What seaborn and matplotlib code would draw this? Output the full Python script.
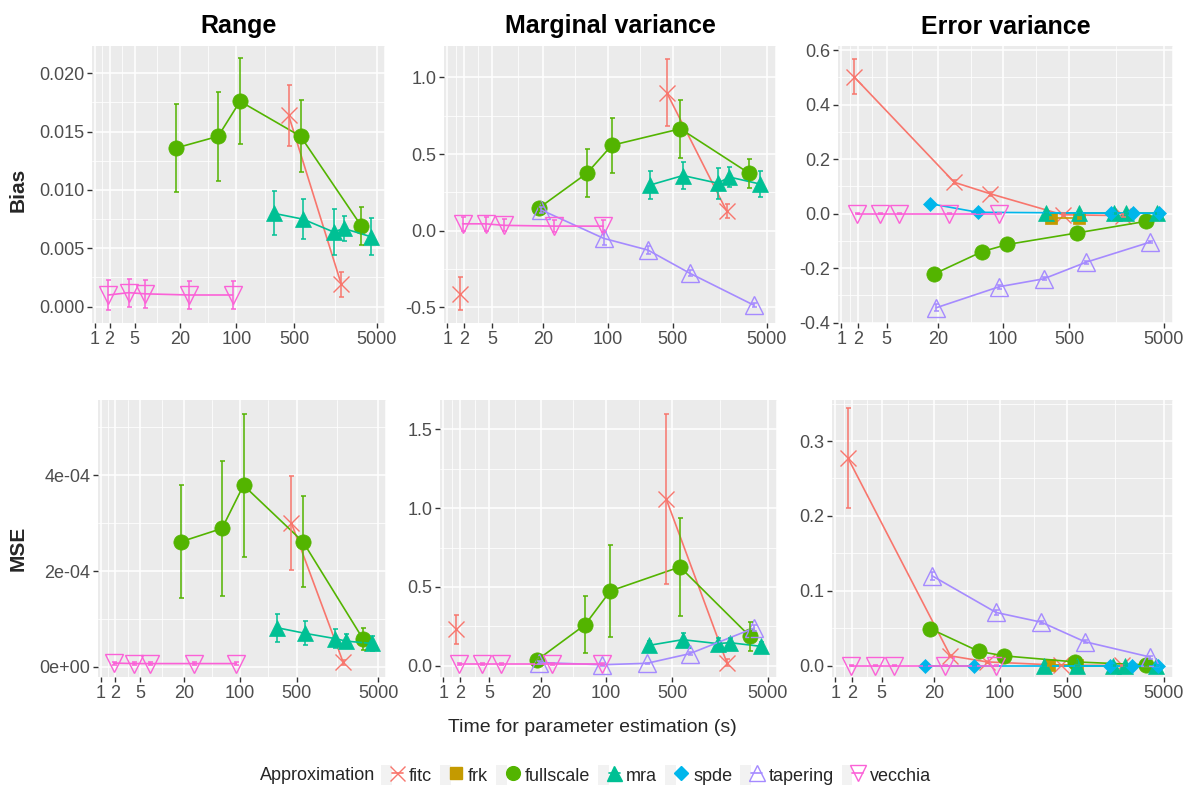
import numpy as np
import seaborn as sns
import matplotlib.pyplot as plt
from matplotlib.lines import Line2D
from matplotlib.patches import Rectangle
from matplotlib.legend_handler import HandlerTuple
from matplotlib.ticker import FixedLocator

nan = np.nan

# Approximations, colours (ggplot hue palette) and markers
METHODS = ['fitc', 'frk', 'fullscale', 'mra', 'spde', 'tapering', 'vecchia']
COLORS = ['#F8766D', '#C49A00', '#53B400', '#00C094', '#00B6EB', '#A58AFF', '#FB61D7']
MARKERS = ['x', 's', 'o', '^', 'D', '^', 'v']
FILLED = [True, True, True, True, True, False, False]
MSIZE = [12, 9, 11, 12, 7.5, 13, 13]

# Time for parameter estimation (s) per configuration
TIME = {
    'fitc': [1.7, 30, 73, 430, 1860],
    'frk': [325, 640],
    'fullscale': [18, 60, 111, 600, 3250],
    'mra': [285, 640, 1500, 2000, 4200],
    'spde': [16, 54, 1400, 2340, 4400],
    'tapering': [19, 91, 270, 760, 3610],
    'vecchia': [1.9, 4.1, 7.0, 26.5, 90],
}

# ---- Bias: range ----
RB_FITC = [nan, nan, nan, 0.0164, 0.0019]
RB_FITC_ERR = [nan, nan, nan, 0.0026, 0.0011]
RB_FULL = [0.0136, 0.0146, 0.0176, 0.0146, 0.0069]
RB_FULL_ERR = [0.0038, 0.0038, 0.0037, 0.0031, 0.0016]
RB_MRA = [0.0080, 0.0075, 0.0064, 0.0067, 0.0060]
RB_MRA_ERR = [0.0019, 0.0017, 0.0020, 0.0011, 0.0016]
RB_VEC = [0.0010, 0.0012, 0.0011, 0.0010, 0.0010]
RB_VEC_ERR = [0.0013, 0.0012, 0.0012, 0.0012, 0.0012]

# ---- Bias: marginal variance ----
MB_FITC = [-0.41, nan, nan, 0.90, 0.13]
MB_FITC_ERR = [0.11, nan, nan, 0.22, 0.045]
MB_FULL = [0.15, 0.375, 0.557, 0.665, 0.374]
MB_FULL_ERR = [0.03, 0.157, 0.18, 0.19, 0.097]
MB_MRA = [0.298, 0.36, 0.31, 0.35, 0.305]
MB_MRA_ERR = [0.09, 0.087, 0.10, 0.068, 0.082]
MB_TAP = [0.135, -0.05, -0.126, -0.278, -0.485]
MB_TAP_ERR = [0.02, 0.04, 0.025, 0.02, 0.015]
MB_VEC = [0.045, 0.045, 0.035, 0.03, 0.03]
MB_VEC_ERR = [0.045, 0.045, 0.04, 0.04, 0.04]

# ---- Bias: error variance ----
EB_FITC = [0.503, 0.115, 0.073, -0.004, -0.007]
EB_FITC_ERR = [0.064, 0.008, 0.008, 0.005, 0.005]
EB_FRK = [-0.015, -0.015]
EB_FRK_ERR = [0.003, 0.003]
EB_FULL = [-0.221, -0.139, -0.113, -0.071, -0.028]
EB_FULL_ERR = [0.004, 0.004, 0.004, 0.004, 0.004]
EB_MRA = [0.002, 0.002, 0.002, 0.002, 0.002]
EB_MRA_ERR = [0.002, 0.002, 0.002, 0.002, 0.002]
EB_SPDE = [0.037, 0.005, 0.002, 0.002, 0.001]
EB_SPDE_ERR = [0.002, 0.002, 0.002, 0.002, 0.002]
EB_TAP = [-0.345, -0.268, -0.239, -0.178, -0.104]
EB_TAP_ERR = [0.012, 0.008, 0.006, 0.006, 0.005]
EB_VEC = [0.0, 0.0, 0.0, 0.0, 0.0]
EB_VEC_ERR = [0.002, 0.002, 0.002, 0.002, 0.002]

# ---- MSE: range ----
RM_FITC = [nan, nan, nan, 3.01e-4, 0.10e-4]
RM_FITC_ERR = [nan, nan, nan, 0.98e-4, 0.05e-4]
RM_FULL = [2.61e-4, 2.89e-4, 3.79e-4, 2.61e-4, 0.59e-4]
RM_FULL_ERR = [1.18e-4, 1.40e-4, 1.49e-4, 0.95e-4, 0.23e-4]
RM_MRA = [0.82e-4, 0.70e-4, 0.59e-4, 0.54e-4, 0.49e-4]
RM_MRA_ERR = [0.29e-4, 0.25e-4, 0.20e-4, 0.15e-4, 0.16e-4]
RM_VEC = [0.08e-4, 0.07e-4, 0.07e-4, 0.07e-4, 0.07e-4]
RM_VEC_ERR = [0.03e-4, 0.03e-4, 0.03e-4, 0.03e-4, 0.03e-4]

# ---- MSE: marginal variance ----
MM_FITC = [0.23, nan, nan, 1.06, 0.02]
MM_FITC_ERR = [0.09, nan, nan, 0.54, 0.02]
MM_FULL = [0.034, 0.26, 0.474, 0.627, 0.186]
MM_FULL_ERR = [0.02, 0.18, 0.29, 0.31, 0.09]
MM_MRA = [0.129, 0.165, 0.14, 0.146, 0.123]
MM_MRA_ERR = [0.03, 0.04, 0.035, 0.03, 0.03]
MM_TAP = [0.02, 0.006, 0.015, 0.076, 0.239]
MM_TAP_ERR = [0.01, 0.005, 0.005, 0.01, 0.02]
MM_VEC = [0.008, 0.008, 0.008, 0.008, 0.008]
MM_VEC_ERR = [0.006, 0.006, 0.006, 0.006, 0.006]

# ---- MSE: error variance ----
EM_FITC = [0.277, 0.013, 0.005, 0.0005, 0.0003]
EM_FITC_ERR = [0.067, 0.001, 0.001, 0.0005, 0.0003]
EM_FRK = [0.0003, 0.0003]
EM_FRK_ERR = [0.0003, 0.0003]
EM_FULL = [0.0495, 0.019, 0.013, 0.005, 0.001]
EM_FULL_ERR = [0.001, 0.001, 0.001, 0.001, 0.001]
EM_MRA = [0.0, 0.0, 0.0, 0.0, 0.0]
EM_MRA_ERR = [0.0003, 0.0003, 0.0003, 0.0003, 0.0003]
EM_SPDE = [0.0, 0.0, 0.0, 0.0, 0.0]
EM_SPDE_ERR = [0.0003, 0.0003, 0.0003, 0.0003, 0.0003]
EM_TAP = [0.120, 0.071, 0.058, 0.032, 0.0115]
EM_TAP_ERR = [0.005, 0.003, 0.002, 0.002, 0.002]
EM_VEC = [0.0, 0.0, 0.0, 0.0, 0.0]
EM_VEC_ERR = [0.0003, 0.0003, 0.0003, 0.0003, 0.0003]

X_BREAKS = [1, 2, 5, 20, 100, 500, 5000]
X_LABELS = ['1', '2', '5', '20', '100', '500', '5000']

W, H = 1183, 787

panels = [
    dict(title='Range', rect=(92, 46, 385, 323), ylim=(-0.0014, 0.02234),
         yticks=[0, 0.005, 0.01, 0.015, 0.02],
         ylabels=['0.000', '0.005', '0.010', '0.015', '0.020'],
         series={'fitc': (RB_FITC, RB_FITC_ERR), 'fullscale': (RB_FULL, RB_FULL_ERR),
                 'mra': (RB_MRA, RB_MRA_ERR), 'vecchia': (RB_VEC, RB_VEC_ERR)}),
    dict(title='Marginal variance', rect=(444, 46, 776, 323), ylim=(-0.602, 1.205),
         yticks=[-0.5, 0, 0.5, 1.0], ylabels=['-0.5', '0.0', '0.5', '1.0'],
         series={'fitc': (MB_FITC, MB_FITC_ERR), 'fullscale': (MB_FULL, MB_FULL_ERR),
                 'mra': (MB_MRA, MB_MRA_ERR), 'tapering': (MB_TAP, MB_TAP_ERR),
                 'vecchia': (MB_VEC, MB_VEC_ERR)}),
    dict(title='Error variance', rect=(838, 46, 1173, 323), ylim=(-0.401, 0.615),
         yticks=[-0.4, -0.2, 0, 0.2, 0.4, 0.6],
         ylabels=['-0.4', '-0.2', '0.0', '0.2', '0.4', '0.6'],
         series={'fitc': (EB_FITC, EB_FITC_ERR), 'frk': (EB_FRK, EB_FRK_ERR),
                 'fullscale': (EB_FULL, EB_FULL_ERR), 'mra': (EB_MRA, EB_MRA_ERR),
                 'spde': (EB_SPDE, EB_SPDE_ERR), 'tapering': (EB_TAP, EB_TAP_ERR),
                 'vecchia': (EB_VEC, EB_VEC_ERR)}),
    dict(title=None, rect=(98, 400, 386, 677), ylim=(-2.1e-5, 5.57e-4),
         yticks=[0, 2e-4, 4e-4], ylabels=['0e+00', '2e-04', '4e-04'],
         series={'fitc': (RM_FITC, RM_FITC_ERR), 'fullscale': (RM_FULL, RM_FULL_ERR),
                 'mra': (RM_MRA, RM_MRA_ERR), 'vecchia': (RM_VEC, RM_VEC_ERR)}),
    dict(title=None, rect=(440, 400, 777, 677), ylim=(-0.072, 1.687),
         yticks=[0, 0.5, 1.0, 1.5], ylabels=['0.0', '0.5', '1.0', '1.5'],
         series={'fitc': (MM_FITC, MM_FITC_ERR), 'fullscale': (MM_FULL, MM_FULL_ERR),
                 'mra': (MM_MRA, MM_MRA_ERR), 'tapering': (MM_TAP, MM_TAP_ERR),
                 'vecchia': (MM_VEC, MM_VEC_ERR)}),
    dict(title=None, rect=(832, 400, 1173, 677), ylim=(-0.0152, 0.3548),
         yticks=[0, 0.1, 0.2, 0.3], ylabels=['0.0', '0.1', '0.2', '0.3'],
         series={'fitc': (EM_FITC, EM_FITC_ERR), 'frk': (EM_FRK, EM_FRK_ERR),
                 'fullscale': (EM_FULL, EM_FULL_ERR), 'mra': (EM_MRA, EM_MRA_ERR),
                 'spde': (EM_SPDE, EM_SPDE_ERR), 'tapering': (EM_TAP, EM_TAP_ERR),
                 'vecchia': (EM_VEC, EM_VEC_ERR)}),
]

sns.set_theme(style='darkgrid', rc={'axes.facecolor': '#EBEBEB', 'grid.color': 'white'})
plt.rcParams['font.family'] = ['Liberation Sans', 'DejaVu Sans']


def fwd(x):
    return np.log10(np.asarray(x, float) + 1)


def inv(t):
    return 10 ** np.asarray(t, float) - 1


T_LIM = (0.265, 3.796)


def minor_breaks(major, lo, hi):
    b = list(major)
    bd = b[1] - b[0]
    if lo < b[0]:
        b = [b[0] - bd] + b
    if hi > b[-1]:
        b = b + [b[-1] + bd]
    mids = [(a + c) / 2 for a, c in zip(b[:-1], b[1:])]
    return [m for m in mids if lo <= m <= hi]


def draw_series(ax, t, y, err, color, marker, ms, filled):
    t = np.asarray(t, float)
    y = np.asarray(y, float)
    err = np.asarray(err, float)
    ok = ~np.isnan(y)
    ax.errorbar(t[ok], y[ok], yerr=err[ok], fmt='none', ecolor=color,
                elinewidth=1.1, capsize=1.8, capthick=1.1, zorder=4)
    # break the line where values are missing
    seg = np.cumsum(~ok)
    for s in np.unique(seg[ok]):
        m = ok & (seg == s)
        sns.lineplot(x=t[m], y=y[m], ax=ax, color=color, marker=marker, ms=ms,
                     mfc=color if filled else 'none', mec=color,
                     mew=1.0 if not filled or marker == 'x' else 0.5,
                     lw=1.2, errorbar=None, sort=False, legend=False, zorder=3)


fig = plt.figure(figsize=(W / 100, H / 100), dpi=100)

for p in panels:
    x0, y0, x1, y1 = p['rect']
    ax = fig.add_axes([x0 / W, 1 - y1 / H, (x1 - x0) / W, (y1 - y0) / H])
    ax.set_xscale('function', functions=(fwd, inv))
    for name, (vals, errs) in p['series'].items():
        i = METHODS.index(name)
        draw_series(ax, TIME[name], vals, errs, COLORS[i], MARKERS[i], MSIZE[i], FILLED[i])

    ax.set_xlim(inv(T_LIM[0]), inv(T_LIM[1]))
    ax.set_ylim(*p['ylim'])
    ax.xaxis.set_major_locator(FixedLocator(X_BREAKS))
    ax.set_xticklabels(X_LABELS)
    xmin = minor_breaks(list(fwd(X_BREAKS)), *T_LIM)
    ax.xaxis.set_minor_locator(FixedLocator(list(inv(xmin))))
    ax.yaxis.set_major_locator(FixedLocator(p['yticks']))
    ax.set_yticklabels(p['ylabels'])
    ax.yaxis.set_minor_locator(FixedLocator(minor_breaks(p['yticks'], *p['ylim'])))

    ax.set_facecolor('#EBEBEB')
    for sp in ax.spines.values():
        sp.set_visible(False)
    ax.grid(which='major', color='white', lw=1.1)
    ax.grid(which='minor', color='white', lw=0.55)
    ax.set_axisbelow(True)
    ax.tick_params(which='major', length=3.5, width=1.0, color='#333333',
                   labelsize=13, labelcolor='#4D4D4D', pad=2, bottom=True, left=True)
    ax.tick_params(which='minor', length=0)
    ax.set_xlabel('')
    ax.set_ylabel('')
    if p['title']:
        ax.set_title(p['title'], fontsize=18, fontweight='bold', pad=9, color='black')

fig.text(18 / W, 1 - 190 / H, 'Bias', rotation=90, ha='center', va='center',
         fontsize=15, fontweight='bold')
fig.text(18 / W, 1 - 548 / H, 'MSE', rotation=90, ha='center', va='center',
         fontsize=15, fontweight='bold')
fig.text(592 / W, 1 - 727 / H, 'Time for parameter estimation (s)', ha='center',
         va='center', fontsize=14)

# legend at the bottom, title to the left of the keys
fig.text(260 / W, 1 - 775 / H, 'Approximation', ha='left', va='center', fontsize=13)
handles = []
for i, name in enumerate(METHODS):
    bg = Rectangle((0, 0), 1, 1, facecolor='#F2F2F2', edgecolor='none')
    ln = Line2D([], [], color=COLORS[i], marker=MARKERS[i], ms=MSIZE[i] * 0.9,
                mfc=COLORS[i] if FILLED[i] else 'none', mec=COLORS[i],
                mew=1.0, lw=1.2)
    handles.append((bg, ln))
fig.legend(handles, METHODS, loc='center left', bbox_to_anchor=(381 / W, 1 - 775 / H),
           ncol=7, frameon=False, fontsize=13, handlelength=1.2, handleheight=1.3,
           handletextpad=0.35, columnspacing=0.45, borderpad=0, borderaxespad=0,
           handler_map={tuple: HandlerTuple(ndivide=None, pad=0)})

fig.savefig('out.png', dpi=100)
